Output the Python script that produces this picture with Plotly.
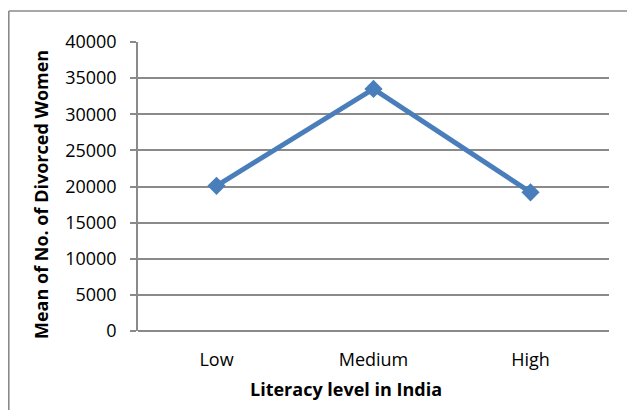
import plotly.graph_objects as go

categories = ["Low", "Medium", "High"]
mean_divorced = [20100, 33500, 19200]
y_ticks = [0, 5000, 10000, 15000, 20000, 25000, 30000, 35000, 40000]

FONT = "Open Sans"
GRID = "#8a8a8a"
BLUE = "#4a7ebb"

# page body has an 8px margin; figure is sized to fit the 635x410 window
OFF = 8
W, H = 635 - OFF, 410 - OFF
# target plot box in window pixels
PX0, PX1, PY0, PY1 = 138, 609, 42, 331
L = PX0 - OFF
T = PY0 - OFF
R = W - (PX1 - OFF)
B = H - (PY1 - OFF)
pw, ph = PX1 - PX0, PY1 - PY0

def px(x):
    return (x - PX0) / pw

def py(y):
    return (PY1 - y) / ph

fig = go.Figure()
fig.add_trace(go.Scatter(
    x=categories, y=mean_divorced, mode="lines+markers",
    line=dict(color=BLUE, width=5),
    marker=dict(symbol="diamond", size=14, color=BLUE),
    showlegend=False,
))

fig.update_layout(
    width=W, height=H,
    margin=dict(l=L, r=R, t=T, b=B),
    paper_bgcolor="white", plot_bgcolor="white",
    font=dict(family=FONT, size=18, color="black"),
    xaxis=dict(
        type="category", range=[-0.5, 2.5], showgrid=False,
        showline=False, zeroline=False, ticks="",
        tickfont=dict(family=FONT, size=18, color="black"),
        ticklabelstandoff=16,
    ),
    yaxis=dict(
        range=[0, 40000], tickvals=y_ticks, ticktext=[str(v) for v in y_ticks],
        showgrid=True, gridcolor=GRID, gridwidth=1.6,
        showline=True, linecolor=GRID, linewidth=1.6,
        zeroline=True, zerolinecolor=GRID, zerolinewidth=1.6,
        ticks="outside", ticklen=6, tickcolor=GRID, tickwidth=1.6,
        tickfont=dict(family=FONT, size=18, color="black"),
        ticklabelstandoff=10,
    ),
    annotations=[
        dict(text="<b>Literacy level in India</b>", xref="paper", yref="paper",
             x=px(346), y=py(389), xanchor="center", yanchor="middle",
             showarrow=False, font=dict(family=FONT, size=18, color="black")),
        dict(text="<b>Mean of No. of Divorced Women</b>", xref="paper", yref="paper",
             x=px(41), y=py(195), xanchor="center", yanchor="middle", textangle=-90,
             showarrow=False, font=dict(family=FONT, size=18, color="black")),
    ],
    shapes=[
        dict(type="line", xref="paper", yref="paper",
             x0=px(OFF + 0.8), x1=px(700), y0=py(11), y1=py(11),
             line=dict(color=GRID, width=1.6)),
        dict(type="line", xref="paper", yref="paper",
             x0=px(OFF + 0.8), x1=px(OFF + 0.8), y0=py(11), y1=py(500),
             line=dict(color=GRID, width=1.6)),
    ],
)

fig.write_html("out.html")
